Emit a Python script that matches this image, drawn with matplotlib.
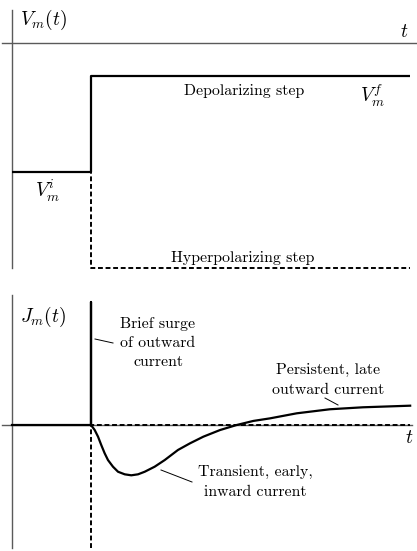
import matplotlib
matplotlib.use("Agg")
import matplotlib.pyplot as plt

plt.rcParams["font.family"] = "serif"
plt.rcParams["font.serif"] = ["cmr10", "DejaVu Serif"]
plt.rcParams["mathtext.fontset"] = "cm"

# time in ms, step applied at t = 1
t_step = 1.0
t_end = 5.04

# membrane voltage (mV)
v_initial = -70.0
v_depol = -18.0
v_hyper = -122.0

# membrane current (arbitrary units), depolarizing step
j_time = [0.0, 1.0, 1.0, 1.0, 1.047, 1.089, 1.130, 1.173, 1.215, 1.278, 1.342,
          1.427, 1.510, 1.595, 1.680, 1.806, 1.933, 2.101, 2.253, 2.422,
          2.633, 2.844, 3.054, 3.266, 3.604, 4.025, 4.443, 5.04]
j_depol = [0.0, 0.0, 1.0, 0.0, -0.041, -0.095, -0.163, -0.230, -0.285, -0.339,
           -0.380, -0.401, -0.409, -0.401, -0.380, -0.339, -0.285,
           -0.203, -0.149, -0.095, -0.041, 0.0, 0.033, 0.054, 0.095, 0.128,
           0.144, 0.157]
# hyperpolarizing step: negative surge, then no current
j_hyper_time = [t_step, t_step, t_end]
j_hyper = [-1.0, 0.0, 0.0]

W, H = 417, 551
fig = plt.figure(figsize=(W / 100, H / 100), dpi=100)

AX_COL = "#5a5a5a"
DASH = (2.5, 1.4)
FS = 11.4
LS = 1.5

# ---- top panel: voltage ----
ax1 = fig.add_axes([0, 1 - 280 / H, 1, 280 / H])
px_t = 79.0   # pixels per ms
px_v = 1.843  # pixels per mV
ax1.set_xlim(-12 / px_t, (W - 12) / px_t)
ax1.set_ylim(-(280 - 43) / px_v, 43 / px_v)
ax1.axis("off")

ax1.plot([-10 / px_t, (W - 12) / px_t], [0, 0], color=AX_COL, lw=1.0)
ax1.plot([0, 0], [-(268 - 43) / px_v, (43 - 10) / px_v], color=AX_COL, lw=1.0)

ax1.plot([0, t_step, t_step, t_end], [v_initial, v_initial, v_hyper, v_hyper],
         color="black", lw=1.4, ls=(0, DASH))
ax1.plot([0, t_step, t_step, t_end], [v_initial, v_initial, v_depol, v_depol],
         color="black", lw=1.6, solid_capstyle="butt")

ax1.text(8 / px_t, (43 - 20) / px_v, r"$V_m(t)$", fontsize=14, ha="left", va="center")
ax1.text(388 / px_t, (43 - 32) / px_v, r"$t$", fontsize=14, ha="left", va="center")
ax1.text(232 / px_t, -(91 - 43) / px_v, "Depolarizing step", fontsize=FS,
         ha="center", va="center")
ax1.text(360 / px_t, -(96 - 43) / px_v, r"$V_m^f$", fontsize=14, ha="center", va="center")
ax1.text(35 / px_t, -(191 - 43) / px_v, r"$V_m^i$", fontsize=14, ha="center", va="center")
ax1.text(231 / px_t, -(258 - 43) / px_v, "Hyperpolarizing step", fontsize=FS,
         ha="center", va="center")

# ---- bottom panel: current ----
ax2 = fig.add_axes([0, 0, 1, 271 / H])
px_j = 123.0  # pixels per current unit
ax2.set_xlim(-12 / px_t, (W - 12) / px_t)
ax2.set_ylim(-(551 - 425) / px_j, (425 - 280) / px_j)
ax2.axis("off")

ax2.plot([-10 / px_t, (412 - 12) / px_t], [0, 0], color=AX_COL, lw=1.0)
ax2.plot([0, 0], [-(548 - 425) / px_j, (425 - 295) / px_j], color=AX_COL, lw=1.0)

ax2.plot(j_hyper_time, j_hyper, color="black", lw=1.4, ls=(0, DASH))
ax2.plot(j_time, j_depol, color="black", lw=1.6, solid_joinstyle="round")

ax2.text(8 / px_t, (425 - 317) / px_j, r"$J_m(t)$", fontsize=14, ha="left", va="center")
ax2.text(393 / px_t, (425 - 438) / px_j, r"$t$", fontsize=14, ha="left", va="center")

ax2.text(146 / px_t, (425 - 343) / px_j, "Brief surge\nof outward\ncurrent",
         fontsize=FS, ha="center", va="center", linespacing=LS)
ax2.plot([83 / px_t, 101 / px_t], [(425 - 339) / px_j, (425 - 343) / px_j],
         color="black", lw=0.7)

ax2.text(316 / px_t, (425 - 380) / px_j, "Persistent, late\noutward current",
         fontsize=FS, ha="center", va="center", linespacing=LS)
ax2.plot([313 / px_t, 326 / px_t], [(425 - 398) / px_j, (425 - 405) / px_j],
         color="black", lw=0.7)

ax2.text(243 / px_t, (425 - 482) / px_j, "Transient, early,\ninward current",
         fontsize=FS, ha="center", va="center", linespacing=LS)
ax2.plot([149 / px_t, 180 / px_t], [(425 - 470) / px_j, (425 - 482) / px_j],
         color="black", lw=0.7)

fig.savefig("out.png", dpi=100)
